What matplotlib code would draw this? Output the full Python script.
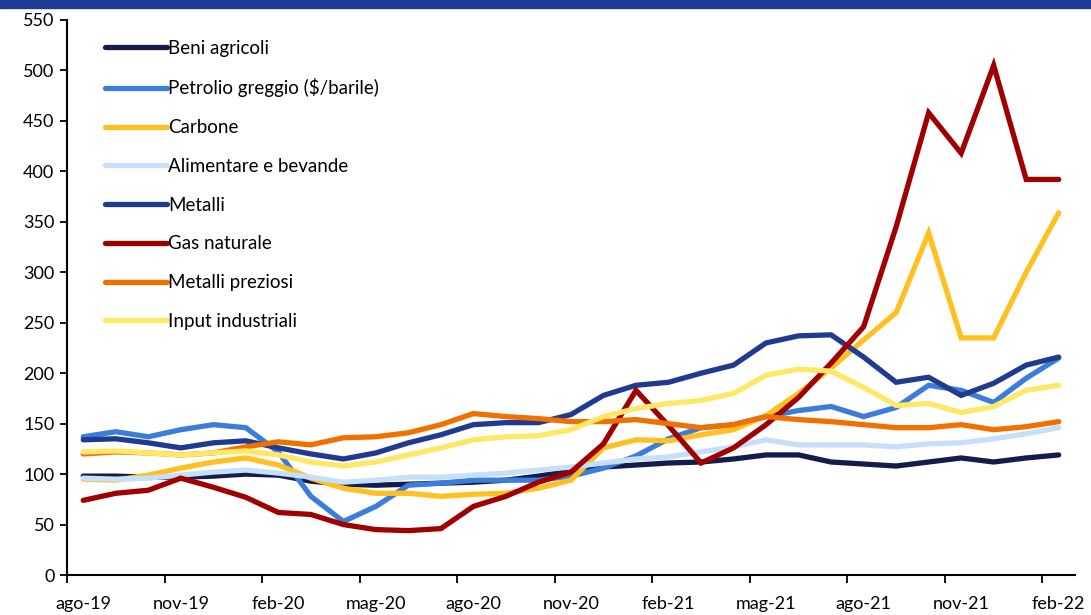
import numpy as np
import matplotlib
matplotlib.use("Agg")
import matplotlib.pyplot as plt
from matplotlib.patches import Rectangle

plt.rcParams['font.family'] = ['Lato', 'DejaVu Sans']

# Months ago-19 .. feb-22 (31 monthly points)
months = ["ago-19", "set-19", "ott-19", "nov-19", "dic-19", "gen-20", "feb-20",
          "mar-20", "apr-20", "mag-20", "giu-20", "lug-20", "ago-20", "set-20",
          "ott-20", "nov-20", "dic-20", "gen-21", "feb-21", "mar-21", "apr-21",
          "mag-21", "giu-21", "lug-21", "ago-21", "set-21", "ott-21", "nov-21",
          "dic-21", "gen-22", "feb-22"]

beni_agricoli = [98, 98, 97, 97, 98, 100, 99, 93, 90, 89, 90, 91, 92, 94, 98, 103,
                 107, 109, 111, 112, 115, 119, 119, 112, 110, 108, 112, 116, 112, 116, 119]
petrolio = [137, 142, 137, 144, 149, 146, 122, 78, 53, 68, 89, 91, 94, 94, 94, 98,
            106, 118, 135, 146, 149, 157, 163, 167, 157, 166, 188, 183, 171, 195, 215]
carbone = [95, 94, 99, 106, 112, 116, 109, 96, 86, 81, 81, 78, 80, 81, 86, 94,
           126, 134, 133, 139, 144, 158, 180, 205, 233, 260, 339, 235, 235, 300, 359]
alimentare = [96, 95, 96, 99, 102, 104, 101, 97, 92, 94, 97, 97, 99, 101, 104, 107,
              111, 115, 117, 122, 127, 134, 129, 129, 129, 127, 130, 131, 135, 140, 146]
metalli = [134, 135, 131, 126, 131, 133, 126, 120, 115, 121, 131, 139, 149, 151, 151, 159,
           178, 188, 191, 200, 208, 230, 237, 238, 216, 191, 196, 178, 190, 208, 216]
gas_naturale = [74, 81, 84, 96, 87, 77, 62, 60, 50, 45, 44, 46, 68, 78, 92, 102,
                130, 183, 148, 111, 126, 149, 176, 210, 246, 345, 458, 418, 505, 392, 392]
metalli_preziosi = [120, 122, 121, 119, 121, 127, 132, 129, 136, 137, 141, 149, 160, 157, 155, 152,
                    152, 154, 150, 146, 149, 157, 154, 152, 149, 146, 146, 149, 144, 147, 152]
input_industriali = [122, 123, 121, 119, 121, 123, 119, 112, 108, 112, 119, 126, 134, 137, 138, 144,
                     157, 165, 170, 173, 180, 198, 204, 202, 186, 168, 170, 161, 167, 183, 188]

series = [
    ("Beni agricoli", beni_agricoli, "#141c4c"),
    ("Petrolio greggio ($/barile)", petrolio, "#3a7ddb"),
    ("Carbone", carbone, "#ffc020"),
    ("Alimentare e bevande", alimentare, "#c6e0fa"),
    ("Metalli", metalli, "#203a8f"),
    ("Gas naturale", gas_naturale, "#a00000"),
    ("Metalli preziosi", metalli_preziosi, "#f07000"),
    ("Input industriali", input_industriali, "#ffe866"),
]

fig = plt.figure(figsize=(10.91, 6.15), dpi=100)
ax = fig.add_axes([0.0614, 0.065, 0.9239, 0.9025])

x = np.arange(len(months))
for name, vals, col in series:
    ax.plot(x, vals, color=col, lw=3.8, label=name, solid_capstyle='round',
            solid_joinstyle='miter')

ax.set_xlim(-0.5, len(months) - 0.5)
ax.set_ylim(0, 550)
ax.set_yticks(np.arange(0, 551, 50))
ax.set_xticks(x[::3])
ax.set_xticklabels(months[::3])
ax.set_xticks(np.arange(-0.5, len(months) - 1, 3), minor=True)
ax.tick_params(axis='x', which='major', length=0, pad=15, labelsize=13)
ax.tick_params(axis='x', which='minor', length=6, width=1.3, direction='out')
ax.tick_params(axis='y', length=5, width=1.3, direction='out', pad=4, labelsize=13)

for s in ['top', 'right']:
    ax.spines[s].set_visible(False)
for s in ['left', 'bottom']:
    ax.spines[s].set_linewidth(1.5)

leg = ax.legend(loc='upper left', bbox_to_anchor=(0.03, 0.978), frameon=False,
                fontsize=13.5, handlelength=3.3, handletextpad=0.1, labelspacing=1.16,
                borderaxespad=0)

# Header band
fig.patches.append(Rectangle((0, 0.987), 1, 0.013, transform=fig.transFigure,
                             color="#1f3a93", zorder=5))

fig.savefig("out.png", dpi=100)
